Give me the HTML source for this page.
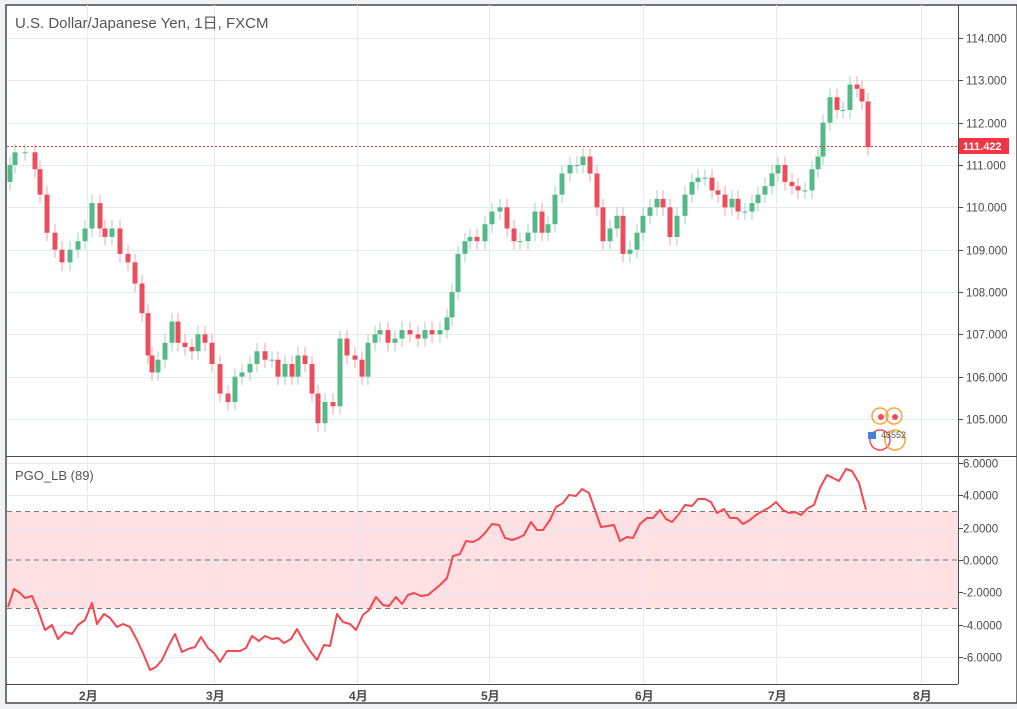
<!DOCTYPE html>
<html><head><meta charset="utf-8"><style>
body{margin:0;background:#f0f3f6;width:1017px;height:709px;overflow:hidden;font-family:"Liberation Sans","Noto Sans CJK JP",sans-serif}
svg{position:absolute;left:0;top:0}
</style></head><body>
<svg id="s" width="1017" height="709" xmlns="http://www.w3.org/2000/svg" font-family="Liberation Sans, Noto Sans CJK JP, sans-serif">
<rect x="6" y="5" width="1011" height="698" fill="#fff" stroke="#4a4a4a" stroke-width="1.5"/>
<rect x="7" y="511.5" width="951" height="97" fill="#ffe1e3"/>
<g id="grid" stroke="#e1ecf2" stroke-width="1"></g>
<g id="c"></g>
<line x1="7" y1="146.5" x2="958" y2="146.5" stroke="#f23645" stroke-dasharray="2,2"/>
<g stroke="#777" stroke-dasharray="5,4">
<line x1="7" y1="511.5" x2="958" y2="511.5"/><line x1="7" y1="560" x2="958" y2="560"/><line x1="7" y1="608.5" x2="958" y2="608.5"/></g>
<polyline id="p" fill="none" stroke="#f5474f" stroke-width="2" stroke-linejoin="round"/>
<line x1="958.5" y1="5" x2="958.5" y2="684" stroke="#4a4a4a"/>
<line x1="6" y1="456.5" x2="1017" y2="456.5" stroke="#4a4a4a"/>
<line x1="6" y1="684.5" x2="958" y2="684.5" stroke="#4a4a4a"/>
<g id="ax" font-size="11.5" fill="#4a4a4a"></g>
<rect x="959" y="138" width="50" height="16" fill="#f23645"/>
<text x="963" y="150" font-size="11" fill="#fff" font-weight="bold">111.422</text>
<text x="15" y="28" font-size="15" fill="#555">U.S. Dollar/Japanese Yen, 1日, FXCM</text>
<text x="15" y="480" font-size="13" fill="#555">PGO_LB (89)</text>
<g fill="none" stroke="#f7a53a" stroke-width="1.5"><circle cx="880" cy="416" r="8"/><circle cx="894" cy="416" r="8"/><circle cx="880" cy="440" r="10" stroke="#ee4d5c"/><circle cx="895" cy="440" r="10"/></g>
<circle cx="881" cy="417" r="3" fill="#ee4d5c"/><circle cx="895" cy="417" r="3" fill="#ee4d5c"/>
<rect x="868" y="432" width="8" height="7" fill="#4a7fd6"/>
<text x="881" y="438" font-size="9" fill="#555">43552</text>
</svg>
<script>
const NS="http://www.w3.org/2000/svg";
function el(p,t,a,txt){const e=document.createElementNS(NS,t);for(const k in a)e.setAttribute(k,a[k]);if(txt)e.textContent=txt;p.appendChild(e);return e;}
const g=document.getElementById('grid'),ax=document.getElementById('ax');
const py=p=>38+(114-p)*42.33, vy=v=>560-v*16.17;
for(let p=105;p<=114;p++){let y=Math.round(py(p))+.5;el(g,'line',{x1:7,x2:958,y1:y,y2:y});el(ax,'line',{x1:958,x2:963,y1:y,y2:y,stroke:'#4a4a4a'});el(ax,'text',{x:966,y:y+4},p.toFixed(3));}
for(let v=-6;v<=6;v+=2){let y=Math.round(vy(v))+.5;el(g,'line',{x1:7,x2:958,y1:y,y2:y});el(ax,'line',{x1:958,x2:963,y1:y,y2:y,stroke:'#4a4a4a'});el(ax,'text',{x:963,y:y+4},(v<0?'-':'')+Math.abs(v).toFixed(4));}
[[87,'2月'],[214,'3月'],[357,'4月'],[489,'5月'],[643,'6月'],[776,'7月'],[921,'8月']].forEach(([x,t])=>{el(g,'line',{x1:x+.5,x2:x+.5,y1:5,y2:684});el(ax,'text',{x:x-8,y:700,'font-weight':'bold','font-size':12},t);});
const C=[[10,111.0],[15,111.3],[25,111.3],[35,110.9],[40,110.3],[47,109.4],[55,109.0],[62,108.7],[70,109.0],[78,109.2],[85,109.5],[92,110.1],[100,109.5],[105,109.3],[112,109.5],[120,108.9],[128,108.7],[135,108.2],[142,107.5],[148,106.5],[152,106.1],[158,106.4],[165,106.8],[172,107.3],[178,106.8],[185,106.7],[192,106.6],[198,107.0],[205,106.8],[212,106.3],[220,105.6],[228,105.4],[235,106.0],[242,106.1],[250,106.3],[257,106.6],[265,106.4],[272,106.4],[278,106.0],[285,106.3],[292,106.0],[298,106.5],[305,106.3],[312,105.6],[318,104.9],[325,105.4],[333,105.3],[340,106.9],[347,106.5],[355,106.4],[362,106.0],[368,106.8],[375,107.0],[380,107.1],[388,106.8],[395,106.9],[402,107.1],[410,107.0],[418,106.9],[425,107.1],[432,107.0],[440,107.1],[447,107.4],[452,108.0],[458,108.9],[465,109.2],[470,109.3],[477,109.2],[485,109.6],[492,109.9],[500,110.0],[507,109.5],[514,109.2],[520,109.2],[528,109.4],[535,109.9],[542,109.4],[548,109.6],[555,110.3],[562,110.8],[570,111.0],[577,111.0],[583,111.2],[590,110.8],[597,110.0],[603,109.2],[610,109.5],[617,109.8],[623,108.9],[630,109.0],[637,109.4],[643,109.8],[650,110.0],[657,110.2],[663,110.0],[670,109.3],[677,109.8],[685,110.3],[692,110.6],[698,110.7],[705,110.7],[712,110.4],[718,110.3],[725,110.0],[732,110.2],[738,109.9],[745,109.9],[752,110.1],[758,110.3],[765,110.5],[772,110.8],[778,111.0],[785,110.6],[792,110.5],[798,110.4],[805,110.4],[812,110.9],[818,111.2],[823,112.0],[830,112.6],[837,112.3],[843,112.3],[850,112.9],[857,112.8],[862,112.5],[868,111.42]];
const cg=document.getElementById('c');let prev=110.6;
C.forEach(([x,c],i)=>{let o=prev;prev=c;const up=c>=o,col=up?'#53b987':'#eb4d5c';const hi=Math.max(o,c)+0.2,lo=Math.min(o,c)-0.2;
el(cg,'line',{x1:x,x2:x,y1:py(hi),y2:py(lo),stroke:up?'#9fd4ba':'#f4a0a8'});
const y1=py(Math.max(o,c)),y2=py(Math.min(o,c));el(cg,'rect',{x:x-2.5,y:y1,width:5,height:Math.max(1,y2-y1),fill:col});});
const P="8,607 14,589 20,593 25,598 32,596 38,610 45,630 52,625 58,639 65,632 72,634 78,625 85,620 92,603 97,624 104,614 110,618 117,627 123,624 130,627 137,640 143,653 150,670 156,667 162,660 169,645 175,634 182,652 188,649 195,647 201,637 208,648 214,653 220,662 227,651 234,651 240,651 246,648 252,636 259,641 265,636 272,639 278,638 284,643 291,639 297,629 303,640 310,651 317,660 324,645 330,646 337,614 343,622 350,624 356,630 363,615 369,610 376,597 383,605 389,606 396,597 402,604 408,595 414,593 421,596 428,595 434,590 440,585 447,578 453,556 460,554 466,541 473,542 479,539 485,533 492,524 499,525 505,538 512,540 518,538 524,535 531,522 537,530 543,530 550,520 556,507 563,503 569,495 576,496 582,489 589,493 595,510 601,527 608,526 614,525 620,541 627,537 633,538 640,524 647,518 653,518 660,510 666,519 672,522 679,514 685,505 692,506 698,499 705,499 711,502 717,513 724,509 730,518 737,518 743,524 750,520 756,515 763,511 770,507 776,502 783,510 789,513 795,512 801,515 808,508 814,505 820,488 827,475 833,478 839,481 846,469 852,471 859,483 866,510";
document.getElementById('p').setAttribute('points',P);
</script>
</body></html>
